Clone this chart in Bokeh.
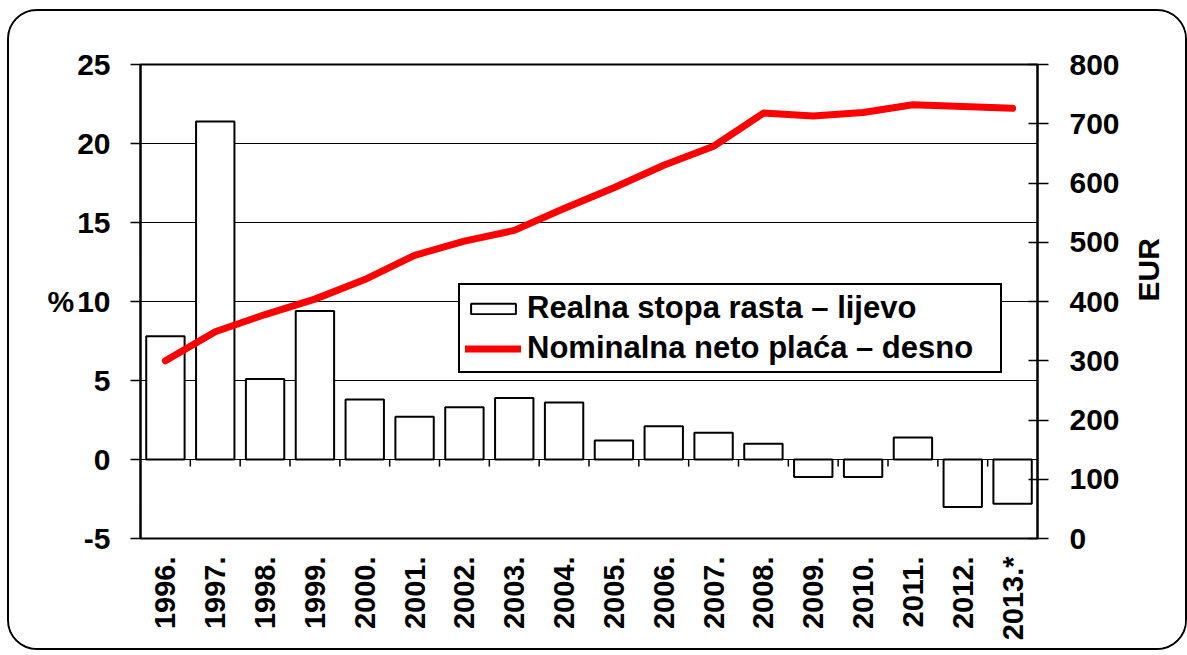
import math
from bokeh.plotting import figure
from bokeh.models import (Range1d, LinearAxis, FixedTicker, Legend, LegendItem,
                          FactorRange)
from bokeh.embed import file_html
from bokeh.resources import INLINE

years = ["1996.", "1997.", "1998.", "1999.", "2000.", "2001.", "2002.", "2003.",
         "2004.", "2005.", "2006.", "2007.", "2008.", "2009.", "2010.", "2011.",
         "2012.", "2013.*"]
real_growth = [7.8, 21.4, 5.1, 9.4, 3.8, 2.7, 3.3, 3.9, 3.6, 1.2, 2.1, 1.7,
               1.0, -1.1, -1.1, 1.4, -3.0, -2.8]
net_wage = [300, 349, 378, 404, 437, 478, 502, 520, 557, 592, 630, 662,
            718, 713, 719, 732, 729, 726]
left_ticks = [-5, 0, 5, 10, 15, 20, 25]
left_tick_labels = {-5: "-5", 0: "0", 5: "5", 10: "10", 15: "15", 20: "20", 25: "25"}
right_ticks = [0, 100, 200, 300, 400, 500, 600, 700, 800]
label_bars = "Realna stopa rasta – lijevo"
label_line = "Nominalna neto plaća – desno"

FONT = "Liberation Sans"
FS = "30px"

p = figure(x_range=FactorRange(*years), y_range=Range1d(-5, 25),
           frame_width=897, frame_height=474,
           min_border_left=131, min_border_right=148,
           min_border_top=53, min_border_bottom=110,
           output_backend="svg", toolbar_location=None)
p.extra_y_ranges = {"eur": Range1d(0, 800)}
p.background_fill_color = "white"
p.border_fill_color = "white"
p.outline_line_color = "black"
p.outline_line_width = 2
p.styles = {"border": "2px solid black", "border-radius": "30px",
            "overflow": "hidden", "margin-left": "7px", "margin-top": "9px"}

# grid
p.xgrid.visible = False
p.ygrid.ticker = FixedTicker(ticks=left_ticks)
p.ygrid.grid_line_color = "black"
p.ygrid.grid_line_width = 1.2

# bars
bars = p.vbar(x=years, top=real_growth, bottom=0, width=0.77,
              fill_color="white", line_color="black", line_width=2)

# category boundary ticks at zero line
bounds = list(range(1, len(years)))
p.segment(x0=bounds, x1=bounds, y0=[0] * len(bounds), y1=[-0.45] * len(bounds),
          line_color="black", line_width=1.5)

# line
line = p.line(x=years, y=net_wage, y_range_name="eur", line_color="#ff0000",
              line_width=7, line_cap="round", line_join="round")

# left axis
ya = p.yaxis[0]
ya.ticker = FixedTicker(ticks=left_ticks)
ya.major_label_overrides = left_tick_labels
ya.major_tick_out = 10
ya.major_tick_in = 0
ya.minor_tick_line_color = None
ya.axis_line_width = 2
ya.major_tick_line_width = 1.5
ya.major_label_text_font = FONT
ya.major_label_text_font_style = "bold"
ya.major_label_text_font_size = FS
ya.major_label_text_color = "black"
ya.major_label_standoff = 20
ya.axis_label = "%"
ya.axis_label_orientation = "horizontal"
ya.axis_label_standoff = 0
ya.axis_label_text_font = FONT
ya.axis_label_text_font_style = "bold"
ya.axis_label_text_font_size = FS
ya.axis_label_text_color = "black"

# right axis
ra = LinearAxis(y_range_name="eur", ticker=FixedTicker(ticks=right_ticks))
ra.major_tick_out = 11
ra.major_tick_in = 9
ra.minor_tick_line_color = None
ra.axis_line_width = 2
ra.major_tick_line_width = 1.5
ra.major_label_text_font = FONT
ra.major_label_text_font_style = "bold"
ra.major_label_text_font_size = FS
ra.major_label_text_color = "black"
ra.major_label_standoff = 21
ra.axis_label = "EUR"
ra.axis_label_orientation = math.pi / 2
ra.axis_label_standoff = 26
ra.axis_label_text_font = FONT
ra.axis_label_text_font_style = "bold"
ra.axis_label_text_font_size = FS
ra.axis_label_text_color = "black"
p.add_layout(ra, "right")

# bottom axis
xa = p.xaxis[0]
xa.axis_line_color = None
xa.major_tick_line_color = None
xa.minor_tick_line_color = None
xa.major_label_orientation = math.pi / 2
xa.major_label_standoff = 12
xa.major_label_text_font = FONT
xa.major_label_text_font_style = "bold"
xa.major_label_text_font_size = "29px"
xa.major_label_text_color = "black"

legend = Legend(items=[LegendItem(label=label_bars, renderers=[bars]),
                       LegendItem(label=label_line, renderers=[line])],
                location=(318, 165), orientation="vertical",
                border_line_color="black", border_line_width=2, border_line_alpha=1,
                background_fill_color="white", background_fill_alpha=1,
                label_text_font=FONT, label_text_font_style="bold",
                label_text_font_size="31px", label_text_color="black",
                glyph_width=56, glyph_height=13, label_standoff=6,
                padding=5, spacing=4, label_height=34, label_width=468, margin=0)
p.add_layout(legend)

open("out.html", "w").write(file_html(p, INLINE))
